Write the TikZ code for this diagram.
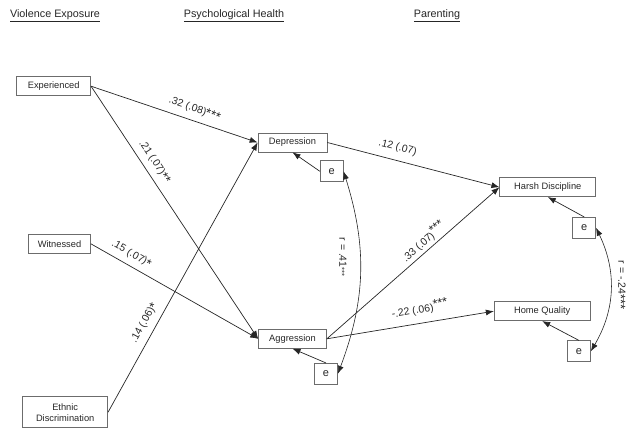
\documentclass[tikz,border=0pt]{standalone}
\usepackage{fontspec}
\setmainfont{Liberation Sans}
\usetikzlibrary{arrows.meta}
\newcommand\mystars[1]{{\fontsize{13}{13}\selectfont\raisebox{-1.8pt}{#1}}}
\newcommand\mysupstars[1]{\raisebox{2.8pt}{\fontsize{12.5}{12.5}\selectfont #1}}
\begin{document}
\begin{tikzpicture}[x=1pt,y=-1pt,
  box/.style={draw=gray!85!black, line width=0.7pt, minimum height=19pt, inner sep=1pt,
    font=\fontsize{9.3}{11}\selectfont, text=black!85},
  ebox/.style={draw=gray!85!black, line width=0.7pt, minimum width=23pt, minimum height=21pt,
    inner sep=1pt, font=\fontsize{11}{13}\selectfont, text=black!85},
  hdr/.style={font=\fontsize{10.8}{13}\selectfont, text=black!85},
  conn/.style={draw=black!85, line width=0.7pt, -{Latex[length=8pt,width=6pt]}},
  corr/.style={draw=black!85, line width=0.6pt, {Latex[length=8pt,width=6pt]}-{Latex[length=8pt,width=6pt]}},
  lbl/.style={font=\fontsize{10.4}{12}\selectfont, text=black!85, inner sep=0.5pt, sloped},
  rlbl/.style={font=\fontsize{10.4}{12}\selectfont, text=black!85, inner sep=0.5pt, rotate=-90}]
\useasboundingbox (0,0) rectangle (640,436);

% headers
\node[hdr] (h1) at (55,15.5) {\underline{Violence Exposure}};
\node[hdr] (h2) at (234,15.5) {\underline{Psychological Health}};
\node[hdr] (h3) at (437,15.5) {\underline{Parenting}};

% boxes
\node[box, minimum width=74pt] (exp) at (53.7,86.2) {Experienced};
\node[box, minimum width=62pt] (wit) at (59.5,243.8) {Witnessed};
\node[box, minimum width=85pt, minimum height=31pt, align=center] (eth) at (65.2,412.2) {Ethnic\\Discrimination};
\node[box, minimum width=69pt] (dep) at (292.5,142.5) {Depression};
\node[box, minimum width=68pt] (agg) at (292.5,338.8) {Aggression};
\node[box, minimum width=96pt] (harsh) at (547.8,187.2) {Harsh Discipline};
\node[box, minimum width=96pt] (home) at (542.2,311.2) {Home Quality};
\node[ebox] (edep) at (331.7,171.3) {e};
\node[ebox] (eagg) at (326,373.8) {e};
\node[ebox] (eharsh) at (584.2,227.8) {e};
\node[ebox] (ehome) at (579,351.3) {e};

% paths
\draw[conn] (exp.east) -- node[lbl, pos=0.6, above=6pt] {.32 (.08)\mystars{***}} (dep.west);
\draw[conn] (exp.east) -- node[lbl, pos=0.325, above=5.5pt] {.21 (.07)\mystars{**}} (agg.west);
\draw[conn] (wit.east) -- node[lbl, pos=0.21, above=5.5pt] {.15 (.07)\mystars{*}} (agg.west);
\draw[conn] (eth.east) -- node[lbl, pos=0.31, above=6pt] {.14 (.06)\mystars{*}} (dep.west);
\draw[conn] (dep.east) -- node[lbl, pos=0.39, above=7pt] {.12 (.07)} (harsh.west);
\draw[conn] (agg.east) -- node[lbl, pos=0.595, above=2pt] {.33 (.07)\mysupstars{***}} (harsh.west);
\draw[conn] (agg.east) -- node[lbl, pos=0.57, above=7pt] {-.22 (.06)\mysupstars{***}} (home.west);

% residuals
\draw[conn] (edep.west) -- (dep.south);
\draw[conn] (eagg.north) -- (agg.south);
\draw[conn] (eharsh.north) -- (harsh.south);
\draw[conn] (ehome.north) -- (home.south);

% correlations
\draw[corr] (edep.east) to[bend left=19] (eagg.east);
\draw[corr] (eharsh.east) to[bend left=28] (ehome.east);
\node[rlbl] (r1) at (343,257) {r = .41{\fontsize{7.5}{8}\selectfont***}};
\node[rlbl] (r2) at (621,285) {r = -.24\mystars{***}};
\end{tikzpicture}
\end{document}
